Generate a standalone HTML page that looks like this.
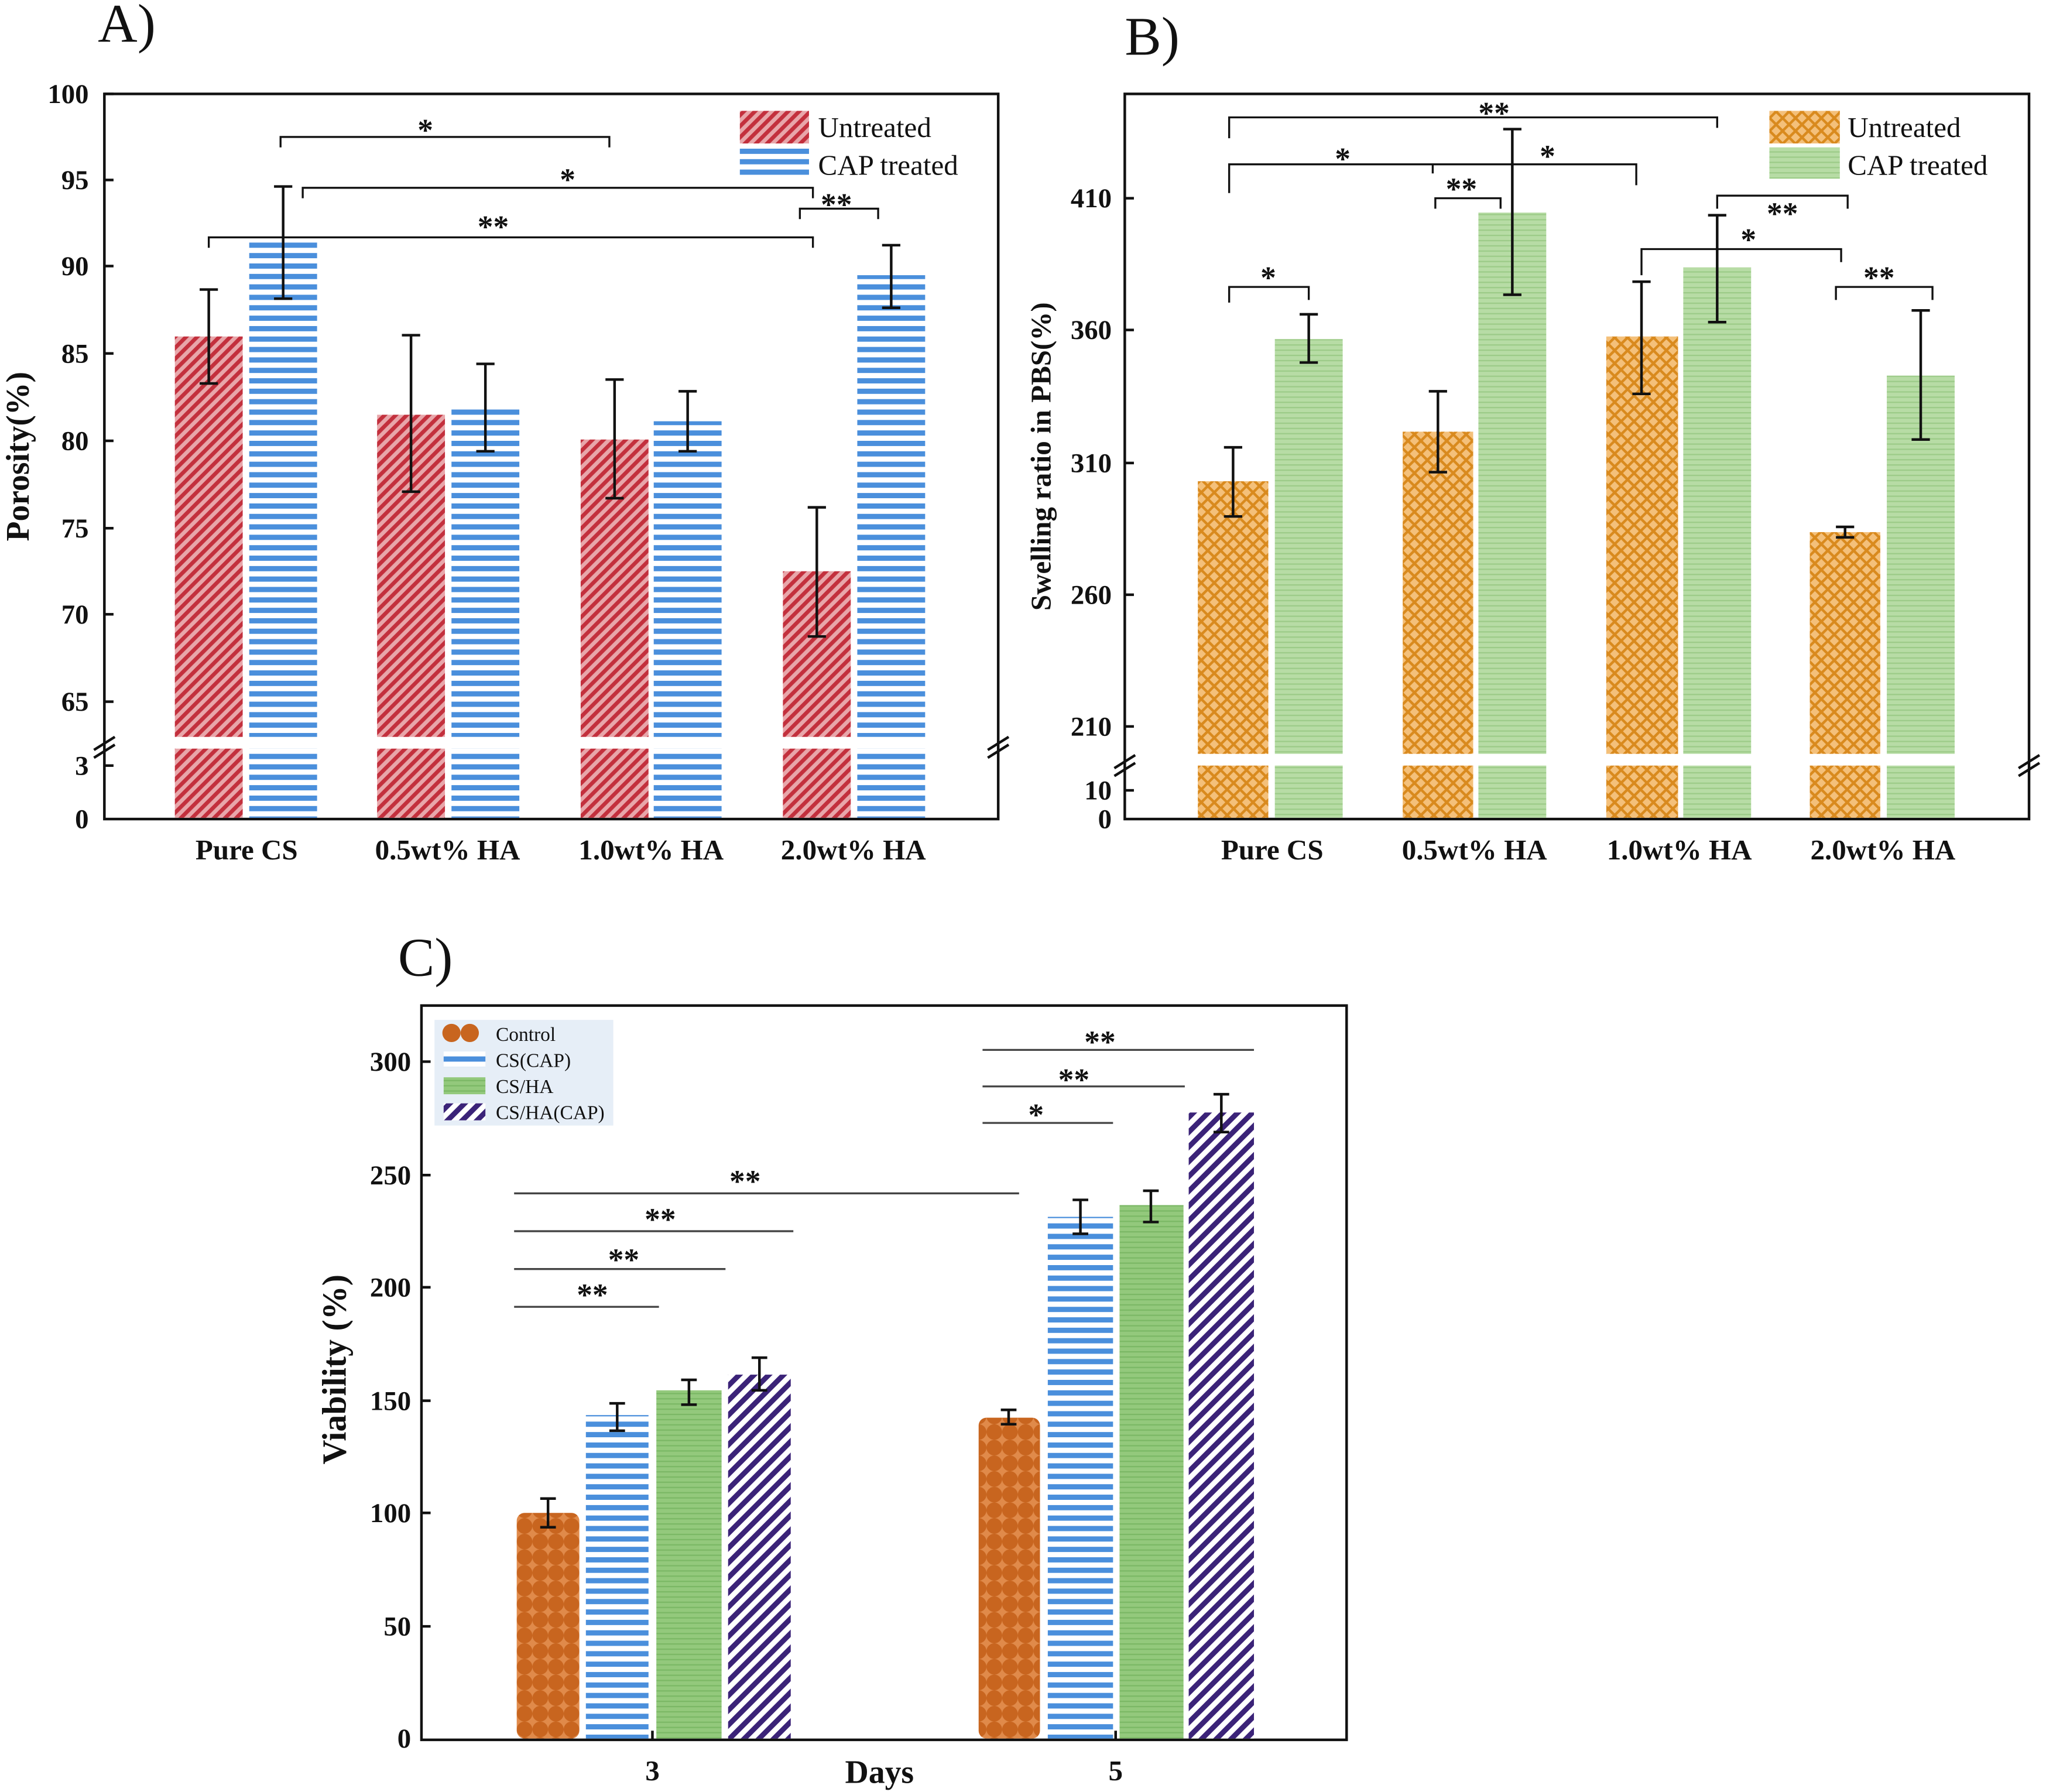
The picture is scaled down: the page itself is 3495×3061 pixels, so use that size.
<!DOCTYPE html>
<html><head><meta charset="utf-8"><style>
html,body{margin:0;padding:0;background:#fff}
svg{display:block}
text{font-family:"Liberation Serif",serif;fill:#111}
.t{font-size:21px;font-weight:bold;text-anchor:end}
.x{font-size:22px;font-weight:bold;text-anchor:middle}
.s{font-size:24px;font-weight:bold;text-anchor:middle}
.lg{font-size:22px}
</style></head><body>
<svg width="3495" height="3061" viewBox="0 0 1568 1374" preserveAspectRatio="none" xmlns="http://www.w3.org/2000/svg">
<defs>
<pattern id="red" width="6" height="6" patternUnits="userSpaceOnUse" patternTransform="rotate(-45)">
<rect width="6" height="6" fill="#e8a6aa"/><rect width="6" height="3" fill="#c3303d"/></pattern>
<pattern id="blue" width="8" height="8" patternUnits="userSpaceOnUse">
<rect width="8" height="8" fill="#fff"/><rect width="8" height="4" y="2" fill="#4a8fdc"/></pattern>
<pattern id="or" width="7" height="7" patternUnits="userSpaceOnUse" patternTransform="rotate(45)">
<rect width="7" height="7" fill="#f4c07a"/><rect width="7" height="2" fill="#d98a1e"/><rect width="2" height="7" fill="#d98a1e"/></pattern>
<pattern id="gr" width="4" height="4" patternUnits="userSpaceOnUse">
<rect width="4" height="4" fill="#b7dca5"/><rect width="4" height="1" fill="#9ccb88"/></pattern>
<pattern id="gr2" width="4" height="4" patternUnits="userSpaceOnUse">
<rect width="4" height="4" fill="#93c97c"/><rect width="4" height="1" fill="#7bb865"/></pattern>
<pattern id="dot" width="12" height="12" patternUnits="userSpaceOnUse">
<rect width="12" height="12" fill="#e08a4a"/><circle cx="6" cy="6" r="6" fill="#c8651f"/></pattern>
<pattern id="pu" width="8" height="8" patternUnits="userSpaceOnUse" patternTransform="rotate(-45)">
<rect width="8" height="8" fill="#fff"/><rect width="8" height="4" fill="#3b2378"/></pattern>
</defs>

<!-- Panel A -->
<text x="75" y="32" style="font-size:42px">A)</text>
<rect x="80" y="72" width="685" height="556" fill="none" stroke="#111" stroke-width="2"/>
<g class="t">
<text x="68" y="79">100</text><text x="68" y="145">95</text><text x="68" y="211">90</text><text x="68" y="278">85</text><text x="68" y="345">80</text><text x="68" y="412">75</text><text x="68" y="478">70</text><text x="68" y="545">65</text><text x="68" y="594">3</text><text x="68" y="635">0</text></g>
<g stroke="#111" stroke-width="2">
<line x1="80" y1="72" x2="87" y2="72"/><line x1="80" y1="138" x2="87" y2="138"/><line x1="80" y1="204" x2="87" y2="204"/><line x1="80" y1="271" x2="87" y2="271"/><line x1="80" y1="338" x2="87" y2="338"/><line x1="80" y1="405" x2="87" y2="405"/><line x1="80" y1="471" x2="87" y2="471"/><line x1="80" y1="538" x2="87" y2="538"/><line x1="80" y1="587" x2="87" y2="587"/></g>
<g>
<rect x="134" y="258" width="52" height="307" fill="url(#red)"/><rect x="134" y="574" width="52" height="53" fill="url(#red)"/>
<rect x="191" y="184" width="52" height="381" fill="url(#blue)"/><rect x="191" y="574" width="52" height="53" fill="url(#blue)"/>
<rect x="289" y="318" width="52" height="247" fill="url(#red)"/><rect x="289" y="574" width="52" height="53" fill="url(#red)"/>
<rect x="346" y="312" width="52" height="253" fill="url(#blue)"/><rect x="346" y="574" width="52" height="53" fill="url(#blue)"/>
<rect x="445" y="337" width="52" height="228" fill="url(#red)"/><rect x="445" y="574" width="52" height="53" fill="url(#red)"/>
<rect x="501" y="323" width="52" height="242" fill="url(#blue)"/><rect x="501" y="574" width="52" height="53" fill="url(#blue)"/>
<rect x="600" y="438" width="52" height="127" fill="url(#red)"/><rect x="600" y="574" width="52" height="53" fill="url(#red)"/>
<rect x="657" y="211" width="52" height="354" fill="url(#blue)"/><rect x="657" y="574" width="52" height="53" fill="url(#blue)"/>
</g>
<g stroke="#111" stroke-width="2" fill="none">
<path d="M160 222V294M153 222h14M153 294h14"/><path d="M217 143V229M210 143h14M210 229h14"/>
<path d="M315 257V377M308 257h14M308 377h14"/><path d="M372 279V346M365 279h14M365 346h14"/>
<path d="M471 291V382M464 291h14M464 382h14"/><path d="M527 300V346M520 300h14M520 346h14"/>
<path d="M626 389V488M619 389h14M619 488h14"/><path d="M683 188V236M676 188h14M676 236h14"/>
<path stroke-width="1.5" d="M215 113V105H467V113M232 152V144H623V152M160 190V182H623V190M613 168V160H673V168"/>
<path d="M72 575l16 -10M72 581l16 -10M757 575l16 -10M757 581l16 -10"/>
</g>
<text class="s" x="326" y="108">*</text><text class="s" x="435" y="146">*</text><text class="s" x="378" y="182">**</text><text class="s" x="641" y="165">**</text>
<rect x="567" y="85" width="53" height="25" fill="url(#red)"/><rect x="567" y="113" width="53" height="23" fill="url(#blue)"/>
<text class="lg" x="627" y="105">Untreated</text><text class="lg" x="627" y="134">CAP treated</text>
<g class="x"><text x="189" y="659">Pure CS</text><text x="343" y="659">0.5wt% HA</text><text x="499" y="659">1.0wt% HA</text><text x="654" y="659">2.0wt% HA</text></g>
<text transform="translate(22,350) rotate(-90)" style="font-size:25px;font-weight:bold;text-anchor:middle">Porosity(%)</text>

<!-- Panel B -->
<text x="862" y="42" style="font-size:42px">B)</text>
<rect x="862" y="72" width="693" height="556" fill="none" stroke="#111" stroke-width="2"/>
<g class="t">
<text x="852" y="159">410</text><text x="852" y="260">360</text><text x="852" y="362">310</text><text x="852" y="463">260</text><text x="852" y="564">210</text><text x="852" y="613">10</text><text x="852" y="635">0</text></g>
<g stroke="#111" stroke-width="2">
<line x1="862" y1="152" x2="869" y2="152"/><line x1="862" y1="253" x2="869" y2="253"/><line x1="862" y1="355" x2="869" y2="355"/><line x1="862" y1="456" x2="869" y2="456"/><line x1="862" y1="557" x2="869" y2="557"/><line x1="862" y1="606" x2="869" y2="606"/></g>
<g>
<rect x="918" y="369" width="54" height="209" fill="url(#or)"/><rect x="918" y="587" width="54" height="40" fill="url(#or)"/>
<rect x="977" y="260" width="52" height="318" fill="url(#gr)"/><rect x="977" y="587" width="52" height="40" fill="url(#gr)"/>
<rect x="1075" y="331" width="54" height="247" fill="url(#or)"/><rect x="1075" y="587" width="54" height="40" fill="url(#or)"/>
<rect x="1133" y="163" width="52" height="415" fill="url(#gr)"/><rect x="1133" y="587" width="52" height="40" fill="url(#gr)"/>
<rect x="1231" y="258" width="55" height="320" fill="url(#or)"/><rect x="1231" y="587" width="55" height="40" fill="url(#or)"/>
<rect x="1290" y="205" width="52" height="373" fill="url(#gr)"/><rect x="1290" y="587" width="52" height="40" fill="url(#gr)"/>
<rect x="1387" y="408" width="54" height="170" fill="url(#or)"/><rect x="1387" y="587" width="54" height="40" fill="url(#or)"/>
<rect x="1446" y="288" width="52" height="290" fill="url(#gr)"/><rect x="1446" y="587" width="52" height="40" fill="url(#gr)"/>
</g>
<g stroke="#111" stroke-width="2" fill="none">
<path d="M945 343V396M938 343h14M938 396h14"/><path d="M1003 241V278M996 241h14M996 278h14"/>
<path d="M1102 300V362M1095 300h14M1095 362h14"/><path d="M1159 99V226M1152 99h14M1152 226h14"/>
<path d="M1258 216V302M1251 216h14M1251 302h14"/><path d="M1316 165V247M1309 165h14M1309 247h14"/>
<path d="M1414 404V412M1407 404h14M1407 412h14"/><path d="M1472 238V337M1465 238h14M1465 337h14"/>
<path stroke-width="1.5" d="M942 106V90H1316V98M942 148V126H1254V142M1098 126V133M1100 160V152H1150V160M942 232V220H1003V230M1316 160V150H1416V160M1258 211V191H1411V201M1407 230V220H1481V230"/>
<path d="M854 589l16 -10M854 595l16 -10M1547 589l16 -10M1547 595l16 -10"/>
</g>
<text class="s" x="1145" y="95">**</text><text class="s" x="1029" y="130">*</text><text class="s" x="1186" y="128">*</text><text class="s" x="1120" y="153">**</text><text class="s" x="972" y="221">*</text><text class="s" x="1366" y="172">**</text><text class="s" x="1340" y="192">*</text><text class="s" x="1440" y="221">**</text>
<rect x="1356" y="85" width="54" height="25" fill="url(#or)"/><rect x="1356" y="113" width="54" height="24" fill="url(#gr)"/>
<text class="lg" x="1416" y="105">Untreated</text><text class="lg" x="1416" y="134">CAP treated</text>
<g class="x"><text x="975" y="659">Pure CS</text><text x="1130" y="659">0.5wt% HA</text><text x="1287" y="659">1.0wt% HA</text><text x="1443" y="659">2.0wt% HA</text></g>
<text transform="translate(805,350) rotate(-90)" style="font-size:22px;font-weight:bold;text-anchor:middle">Swelling ratio in PBS(%)</text>

<!-- Panel C -->
<text x="305" y="748" style="font-size:42px">C)</text>
<rect x="323" y="771" width="709" height="563" fill="none" stroke="#111" stroke-width="2"/>
<g class="t">
<text x="315" y="821">300</text><text x="315" y="908">250</text><text x="315" y="994">200</text><text x="315" y="1081">150</text><text x="315" y="1167">100</text><text x="315" y="1254">50</text><text x="315" y="1340">0</text></g>
<g stroke="#111" stroke-width="2">
<line x1="323" y1="814" x2="330" y2="814"/><line x1="323" y1="901" x2="330" y2="901"/><line x1="323" y1="987" x2="330" y2="987"/><line x1="323" y1="1074" x2="330" y2="1074"/><line x1="323" y1="1160" x2="330" y2="1160"/><line x1="323" y1="1247" x2="330" y2="1247"/><line x1="500" y1="1334" x2="500" y2="1327"/><line x1="855" y1="1334" x2="855" y2="1327"/></g>
<rect x="396" y="1160" width="48" height="173" fill="url(#dot)" rx="6"/>
<rect x="449" y="1085" width="48" height="248" fill="url(#blue)"/>
<rect x="503" y="1066" width="50" height="267" fill="url(#gr2)"/>
<rect x="558" y="1054" width="48" height="279" fill="url(#pu)"/>
<rect x="750" y="1087" width="47" height="246" fill="url(#dot)" rx="6"/>
<rect x="803" y="933" width="50" height="400" fill="url(#blue)"/>
<rect x="858" y="924" width="49" height="409" fill="url(#gr2)"/>
<rect x="911" y="853" width="50" height="480" fill="url(#pu)"/>
<g stroke="#111" stroke-width="2" fill="none">
<path d="M420 1149V1171M414 1149h12M414 1171h12"/><path d="M473 1076V1097M467 1076h12M467 1097h12"/>
<path d="M528 1058V1077M522 1058h12M522 1077h12"/><path d="M582 1041V1066M576 1041h12M576 1066h12"/>
<path d="M773 1081V1092M767 1081h12M767 1092h12"/><path d="M828 920V946M822 920h12M822 946h12"/>
<path d="M882 913V937M876 913h12M876 937h12"/><path d="M936 839V868M930 839h12M930 868h12"/>
<path stroke="#444" stroke-width="1.5" d="M394 915H781M394 944H608M394 973H556M394 1002H505M753 805H961M753 833H908M753 861H853"/>
</g>
<g style="font-size:20px"><text class="s" x="571" y="914">**</text><text class="s" x="506" y="943">**</text><text class="s" x="478" y="974">**</text><text class="s" x="454" y="1001">**</text><text class="s" x="843" y="807">**</text><text class="s" x="823" y="836">**</text><text class="s" x="794" y="863">*</text></g>
<rect x="333" y="782" width="137" height="81" fill="#e6eef7"/>
<circle cx="346" cy="792" r="7" fill="#c8651f"/><circle cx="360" cy="792" r="7" fill="#c8651f"/>
<rect x="340" y="806" width="32" height="12" fill="url(#blue)"/>
<rect x="340" y="826" width="32" height="13" fill="url(#gr2)"/>
<rect x="340" y="846" width="32" height="13" fill="url(#pu)"/>
<g style="font-size:15px"><text x="380" y="798">Control</text><text x="380" y="818">CS(CAP)</text><text x="380" y="838">CS/HA</text><text x="380" y="858">CS/HA(CAP)</text></g>
<text class="x" x="500" y="1365">3</text><text class="x" x="674" y="1367" style="font-size:25px">Days</text><text class="x" x="855" y="1365">5</text>
<text transform="translate(265,1050) rotate(-90)" style="font-size:26px;font-weight:bold;text-anchor:middle">Viability (%)</text>
</svg>
</body></html>
